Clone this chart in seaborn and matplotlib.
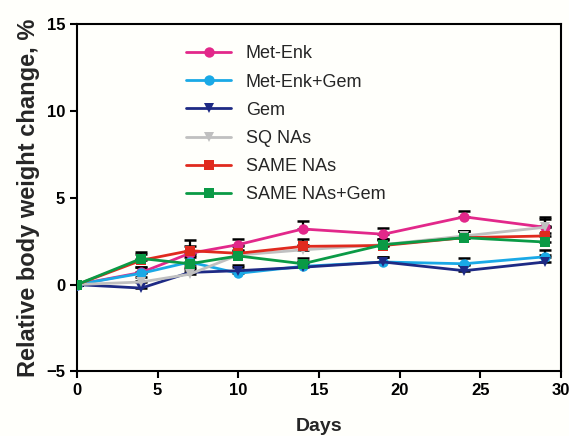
import numpy as np
import pandas as pd
import matplotlib
matplotlib.use("Agg")
import matplotlib.pyplot as plt
import seaborn as sns

days = [0, 4, 7, 10, 14, 19, 24, 29]
met_enk = [0, 0.7, 1.8, 2.3, 3.2, 2.9, 3.9, 3.3]
met_enk_gem = [0, 0.65, 1.3, 0.65, 1.05, 1.3, 1.2, 1.6]
gem = [0, -0.2, 0.7, 0.8, 1.0, 1.3, 0.8, 1.3]
sq_nas = [0, 0.15, 0.6, 1.7, 2.0, 2.3, 2.8, 3.3]
same_nas = [0, 1.4, 1.95, 1.8, 2.2, 2.25, 2.7, 2.8]
same_nas_gem = [0, 1.5, 1.2, 1.65, 1.2, 2.3, 2.7, 2.45]

err_met_enk = [0, 0.3, 0.4, 0.3, 0.45, 0.35, 0.35, 0.5]
err_met_enk_gem = [0, 0.35, 0.4, 0.35, 0.3, 0.3, 0.35, 0.4]
err_gem = [0, 0.4, 0.3, 0.3, 0.3, 0.3, 0.3, 0.4]
err_sq = [0, 0.3, 0.3, 0.3, 0.3, 0.3, 0.3, 0.6]
err_same = [0, 0.35, 0.6, 0.4, 0.4, 0.3, 0.4, 0.6]
err_same_gem = [0, 0.4, 0.4, 0.3, 0.35, 0.35, 0.4, 0.5]

labels = ["Met-Enk", "Met-Enk+Gem", "Gem", "SQ NAs", "SAME NAs", "SAME NAs+Gem"]
series = [met_enk, met_enk_gem, gem, sq_nas, same_nas, same_nas_gem]
errs = [err_met_enk, err_met_enk_gem, err_gem, err_sq, err_same, err_same_gem]
colors = ["#e2288a", "#1aa9e6", "#1e2a84", "#c0c0c0", "#e02a1e", "#0a9a45"]
markers = ["o", "o", "v", "v", "s", "s"]

rows = []
for lab, vals in zip(labels, series):
    for d, v in zip(days, vals):
        rows.append({"Days": d, "value": v, "group": lab})
df = pd.DataFrame(rows)

sns.set_style("ticks")
plt.rcParams['font.family'] = ['Liberation Sans', 'DejaVu Sans']

fig = plt.figure(figsize=(5.69, 4.36), dpi=100, facecolor="#fffffb")
ax = fig.add_axes([0.135, 0.148, 0.851, 0.797])
ax.set_facecolor("#fffffb")

# error bars (upper only), drawn first
for vals, e in zip(series, errs):
    ax.errorbar(days, vals, yerr=[np.zeros(len(e)), e], fmt="none",
                ecolor="black", elinewidth=1.6, capsize=4.5, capthick=1.8, zorder=2)

sns.lineplot(data=df, x="Days", y="value", hue="group", style="group",
             hue_order=labels, style_order=labels,
             palette=dict(zip(labels, colors)),
             markers=dict(zip(labels, markers)),
             dashes=False, linewidth=2, markersize=7.5, markeredgewidth=0,
             ax=ax, zorder=3)

ax.set_xlim(0, 30)
ax.set_ylim(-5, 15)
ax.set_xticks([0, 5, 10, 15, 20, 25, 30])
ax.set_yticks([-5, 0, 5, 10, 15])
for lbl in ax.get_xticklabels() + ax.get_yticklabels():
    lbl.set_fontweight("bold")
    lbl.set_fontsize(12)
ax.tick_params(axis="both", direction="out", length=5, width=1.5, colors="black")
ax.tick_params(right=False, top=False)
for sp in ax.spines.values():
    sp.set_visible(True)
    sp.set_linewidth(1.5)
    sp.set_color("black")

ax.set_xlabel("Days", fontsize=14, fontweight="bold", labelpad=14)
ax.set_ylabel("Relative body weight change, %", fontsize=17, fontweight="bold", labelpad=4)

leg = ax.legend(loc="upper left", bbox_to_anchor=(0.2, 0.975), frameon=False,
                fontsize=13, handlelength=2.5, labelspacing=0.62, borderaxespad=0.3,
                markerscale=1.0)

fig.savefig("out.png", dpi=100, facecolor=fig.get_facecolor())
